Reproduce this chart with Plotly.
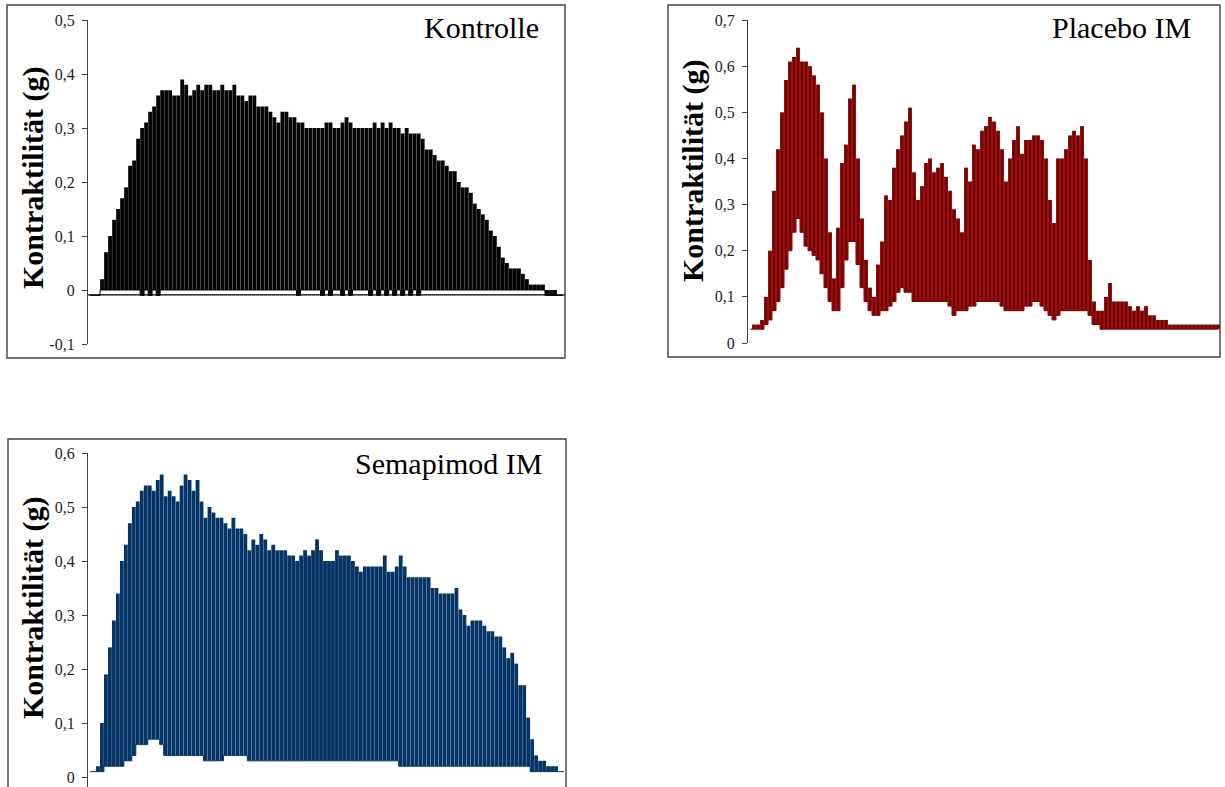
import numpy as np
import plotly.graph_objects as go

W, H = 1225, 787

# ---------------- data ----------------
kontrolle_peak = [
    -0.01, -0.01, -0.01, 0.02, 0.07, 0.10, 0.13, 0.15, 0.17, 0.19,
    0.23, 0.24, 0.28, 0.30, 0.31, 0.33, 0.34, 0.36, 0.37, 0.37,
    0.37, 0.36, 0.36, 0.39, 0.38, 0.36, 0.37, 0.38, 0.37, 0.38,
    0.38, 0.37, 0.37, 0.38, 0.37, 0.37, 0.38, 0.36, 0.36, 0.35,
    0.36, 0.36, 0.34, 0.34, 0.34, 0.33, 0.32, 0.31, 0.33, 0.33,
    0.32, 0.32, 0.31, 0.31, 0.30, 0.30, 0.30, 0.30, 0.30, 0.31,
    0.31, 0.30, 0.30, 0.31, 0.32, 0.31, 0.30, 0.30, 0.30, 0.30,
    0.30, 0.31, 0.30, 0.31, 0.30, 0.31, 0.30, 0.30, 0.29, 0.30,
    0.29, 0.29, 0.29, 0.28, 0.26, 0.26, 0.25, 0.24, 0.24, 0.23,
    0.22, 0.22, 0.20, 0.19, 0.19, 0.18, 0.16, 0.15, 0.14, 0.13,
    0.11, 0.10, 0.08, 0.06, 0.05, 0.04, 0.04, 0.04, 0.03, 0.02,
    0.01, 0.01, 0.01, 0.01, 0.00, 0.00, 0.00, -0.01, -0.01,
]
kontrolle_trough = [
    -0.01, -0.01, -0.01, 0.00, 0.00, 0.00, 0.00, 0.00, 0.00, 0.00,
    0.00, 0.00, 0.00, -0.01, 0.00, -0.01, 0.00, -0.01, 0.00, 0.00,
    0.00, 0.00, 0.00, 0.00, 0.00, 0.00, 0.00, 0.00, 0.00, 0.00,
    0.00, 0.00, 0.00, 0.00, 0.00, 0.00, 0.00, 0.00, 0.00, 0.00,
    0.00, 0.00, 0.00, 0.00, 0.00, 0.00, 0.00, 0.00, 0.00, 0.00,
    0.00, 0.00, -0.01, 0.00, 0.00, 0.00, 0.00, 0.00, -0.01, 0.00,
    -0.01, 0.00, 0.00, -0.01, 0.00, -0.01, 0.00, 0.00, 0.00, 0.00,
    -0.01, 0.00, -0.01, 0.00, -0.01, 0.00, -0.01, 0.00, -0.01, 0.00,
    -0.01, 0.00, -0.01, 0.00, 0.00, 0.00, 0.00, 0.00, 0.00, 0.00,
    0.00, 0.00, 0.00, 0.00, 0.00, 0.00, 0.00, 0.00, 0.00, 0.00,
    0.00, 0.00, 0.00, 0.00, 0.00, 0.00, 0.00, 0.00, 0.00, 0.00,
    0.00, 0.00, 0.00, 0.00, -0.01, -0.01, -0.01, -0.01, -0.01,
]

placebo_peak = [
    0.03, 0.04, 0.04, 0.05, 0.10, 0.20, 0.33, 0.42, 0.50, 0.57,
    0.61, 0.62, 0.64, 0.61, 0.61, 0.60, 0.58, 0.56, 0.50, 0.40,
    0.24, 0.14, 0.25, 0.39, 0.43, 0.53, 0.56, 0.40, 0.27, 0.18,
    0.12, 0.10, 0.17, 0.22, 0.32, 0.31, 0.38, 0.42, 0.45, 0.48,
    0.51, 0.37, 0.31, 0.34, 0.39, 0.40, 0.37, 0.38, 0.39, 0.36,
    0.33, 0.29, 0.27, 0.24, 0.38, 0.35, 0.43, 0.42, 0.46, 0.47,
    0.49, 0.48, 0.46, 0.42, 0.35, 0.40, 0.44, 0.47, 0.41, 0.44,
    0.44, 0.45, 0.45, 0.44, 0.40, 0.31, 0.26, 0.40, 0.40, 0.42,
    0.45, 0.46, 0.45, 0.47, 0.40, 0.18, 0.09, 0.07, 0.07, 0.10,
    0.13, 0.09, 0.09, 0.09, 0.09, 0.08, 0.07, 0.08, 0.07, 0.08,
    0.06, 0.06, 0.05, 0.05, 0.05, 0.04, 0.04, 0.04, 0.04, 0.04,
    0.04, 0.04, 0.04, 0.04, 0.04, 0.04, 0.04, 0.04,
]
placebo_trough = [
    0.03, 0.03, 0.03, 0.03, 0.04, 0.05, 0.07, 0.09, 0.12, 0.16,
    0.20, 0.24, 0.27, 0.24, 0.21, 0.20, 0.19, 0.18, 0.15, 0.12,
    0.09, 0.07, 0.07, 0.12, 0.18, 0.22, 0.22, 0.17, 0.12, 0.09,
    0.07, 0.06, 0.06, 0.07, 0.07, 0.08, 0.09, 0.11, 0.12, 0.11,
    0.11, 0.09, 0.09, 0.09, 0.09, 0.09, 0.09, 0.09, 0.09, 0.09,
    0.08, 0.06, 0.07, 0.07, 0.07, 0.08, 0.08, 0.09, 0.09, 0.09,
    0.09, 0.09, 0.09, 0.08, 0.07, 0.07, 0.07, 0.07, 0.07, 0.08,
    0.08, 0.09, 0.09, 0.08, 0.07, 0.06, 0.05, 0.06, 0.07, 0.07,
    0.07, 0.07, 0.07, 0.07, 0.07, 0.06, 0.04, 0.04, 0.03, 0.03,
    0.03, 0.03, 0.03, 0.03, 0.03, 0.03, 0.03, 0.03, 0.03, 0.03,
    0.03, 0.03, 0.03, 0.03, 0.03, 0.03, 0.03, 0.03, 0.03, 0.03,
    0.03, 0.03, 0.03, 0.03, 0.03, 0.03, 0.03, 0.03,
]

semapimod_peak = [
    0.01, 0.01, 0.02, 0.10, 0.19, 0.24, 0.29, 0.34, 0.40, 0.43,
    0.47, 0.50, 0.51, 0.53, 0.54, 0.54, 0.53, 0.55, 0.56, 0.52,
    0.53, 0.52, 0.51, 0.54, 0.56, 0.55, 0.53, 0.55, 0.51, 0.48,
    0.50, 0.49, 0.48, 0.48, 0.47, 0.46, 0.48, 0.46, 0.46, 0.45,
    0.42, 0.44, 0.43, 0.45, 0.44, 0.42, 0.43, 0.42, 0.42, 0.42,
    0.41, 0.41, 0.40, 0.41, 0.42, 0.41, 0.42, 0.44, 0.42, 0.40,
    0.40, 0.40, 0.42, 0.41, 0.41, 0.41, 0.40, 0.39, 0.38, 0.39,
    0.39, 0.39, 0.39, 0.39, 0.41, 0.38, 0.38, 0.39, 0.41, 0.39,
    0.37, 0.37, 0.37, 0.37, 0.37, 0.37, 0.35, 0.35, 0.34, 0.34,
    0.34, 0.34, 0.35, 0.31, 0.30, 0.28, 0.29, 0.29, 0.29, 0.28,
    0.27, 0.27, 0.26, 0.26, 0.24, 0.22, 0.23, 0.21, 0.17, 0.17,
    0.11, 0.07, 0.04, 0.03, 0.03, 0.02, 0.02, 0.02, 0.01, 0.01,
]
semapimod_trough = [
    0.01, 0.01, 0.01, 0.01, 0.02, 0.02, 0.02, 0.02, 0.02, 0.03,
    0.03, 0.04, 0.06, 0.06, 0.06, 0.07, 0.07, 0.07, 0.06, 0.04,
    0.04, 0.04, 0.04, 0.04, 0.04, 0.04, 0.04, 0.04, 0.04, 0.03,
    0.03, 0.03, 0.03, 0.03, 0.04, 0.04, 0.04, 0.04, 0.04, 0.04,
    0.03, 0.03, 0.03, 0.03, 0.03, 0.03, 0.03, 0.03, 0.03, 0.03,
    0.03, 0.03, 0.03, 0.03, 0.03, 0.03, 0.03, 0.03, 0.03, 0.03,
    0.03, 0.03, 0.03, 0.03, 0.03, 0.03, 0.03, 0.03, 0.03, 0.03,
    0.03, 0.03, 0.03, 0.03, 0.03, 0.03, 0.03, 0.03, 0.02, 0.02,
    0.02, 0.02, 0.02, 0.02, 0.02, 0.02, 0.02, 0.02, 0.02, 0.02,
    0.02, 0.02, 0.02, 0.02, 0.02, 0.02, 0.02, 0.02, 0.02, 0.02,
    0.02, 0.02, 0.02, 0.02, 0.02, 0.02, 0.02, 0.02, 0.02, 0.02,
    0.02, 0.01, 0.01, 0.01, 0.01, 0.01, 0.01, 0.01, 0.01, 0.01,
]

titles = ["Kontrolle", "Placebo IM", "Semapimod IM"]
y_title = "Kontraktilität (g)"
ticks_k = [-0.1, 0, 0.1, 0.2, 0.3, 0.4, 0.5]
ticks_p = [0, 0.1, 0.2, 0.3, 0.4, 0.5, 0.6, 0.7]
ticks_s = [0, 0.1, 0.2, 0.3, 0.4, 0.5, 0.6]
axis_baseline_k = -0.009


def lab(v):
    return "0" if v == 0 else f"{v:.1f}".replace(".", ",")


def px_x(p):
    return p / W


def px_y(p):
    return 1 - p / H


FONT = "Liberation Serif, Times New Roman, serif"
AX = "#404040"

fig = go.Figure()

panels = [
    dict(peak=kontrolle_peak, trough=kontrolle_trough, color="#050505",
         xa="x", ya="y"),
    dict(peak=placebo_peak, trough=placebo_trough, color="#800000",
         xa="x2", ya="y2"),
    dict(peak=semapimod_peak, trough=semapimod_trough, color="#053466",
         xa="x3", ya="y3"),
]

for p in panels:
    pk = np.array(p["peak"])
    tr = np.array(p["trough"])
    idx = np.arange(len(pk))
    fig.add_trace(go.Bar(x=idx, y=pk - tr, base=tr, marker_color=p["color"],
                         marker_line_width=0, xaxis=p["xa"], yaxis=p["ya"],
                         showlegend=False, hoverinfo="skip"))
    fig.add_trace(go.Scatter(x=idx, y=tr, mode="lines", line_shape="hvh",
                             line=dict(color=p["color"], width=1),
                             xaxis=p["xa"], yaxis=p["ya"], showlegend=False,
                             hoverinfo="skip"))


def yaxis(ticks, rng, dom, anchor):
    return dict(range=rng, domain=dom, anchor=anchor, tickvals=ticks,
                ticktext=[lab(v) for v in ticks], showline=True,
                linecolor=AX, linewidth=1.3, ticks="outside", ticklen=5,
                tickwidth=1.2, tickcolor=AX, showgrid=False, zeroline=False,
                ticklabelstandoff=4, automargin=False,
                tickfont=dict(family=FONT, size=16, color="#222"))


def xaxis(n, dom, anchor):
    return dict(range=[-0.5, n - 0.5], domain=dom, anchor=anchor,
                visible=False, showgrid=False, zeroline=False,
                automargin=False)


fig.update_layout(
    template="none",
    width=W, height=H, margin=dict(l=0, r=0, t=0, b=0, pad=0),
    paper_bgcolor="white", plot_bgcolor="rgba(0,0,0,0)",
    bargap=0.04, barmode="overlay",
    xaxis=xaxis(len(kontrolle_peak), [px_x(88), px_x(565)], "y"),
    yaxis=yaxis(ticks_k, [-0.1, 0.5], [px_y(344), px_y(20)], "x"),
    xaxis2=xaxis(len(placebo_peak), [px_x(748), px_x(1220)], "y2"),
    yaxis2=yaxis(ticks_p, [0, 0.7], [px_y(343), px_y(20)], "x2"),
    xaxis3=xaxis(len(semapimod_peak), [px_x(88), px_x(566)], "y3"),
    yaxis3=yaxis(ticks_s, [-0.0185, 0.6], [0, px_y(453)], "x3"),
)

# x-axis line of the first panel (crosses slightly below zero)
fig.add_shape(type="line", xref="x domain", yref="y", x0=0, x1=1,
              y0=axis_baseline_k, y1=axis_baseline_k,
              line=dict(color="#000", width=1.3))

# panel frames
frames = [(7, 5, 565, 358), (668, 5, 1220, 357), (8, 439, 566, 792)]
for (x0, y0, x1, y1) in frames:
    fig.add_shape(type="rect", xref="paper", yref="paper",
                  x0=px_x(x0), x1=px_x(x1), y0=px_y(y1), y1=px_y(y0),
                  line=dict(color=AX, width=1.4), layer="above")

# panel titles
for t, (xr, yc) in zip(titles, [(541, 28), (1193, 28), (545, 464)]):
    fig.add_annotation(text=t, xref="paper", yref="paper", x=px_x(xr),
                       y=px_y(yc), xanchor="right", yanchor="middle",
                       showarrow=False,
                       font=dict(family=FONT, size=30, color="#000"))

# y-axis titles
for (xc, yc) in [(33, 178), (693, 171), (33, 608)]:
    fig.add_annotation(text="<b>" + y_title + "</b>", xref="paper",
                       yref="paper", x=px_x(xc), y=px_y(yc), xanchor="center",
                       yanchor="middle", textangle=-90, showarrow=False,
                       font=dict(family=FONT, size=30, color="#000"))

fig.write_html("out.html")
